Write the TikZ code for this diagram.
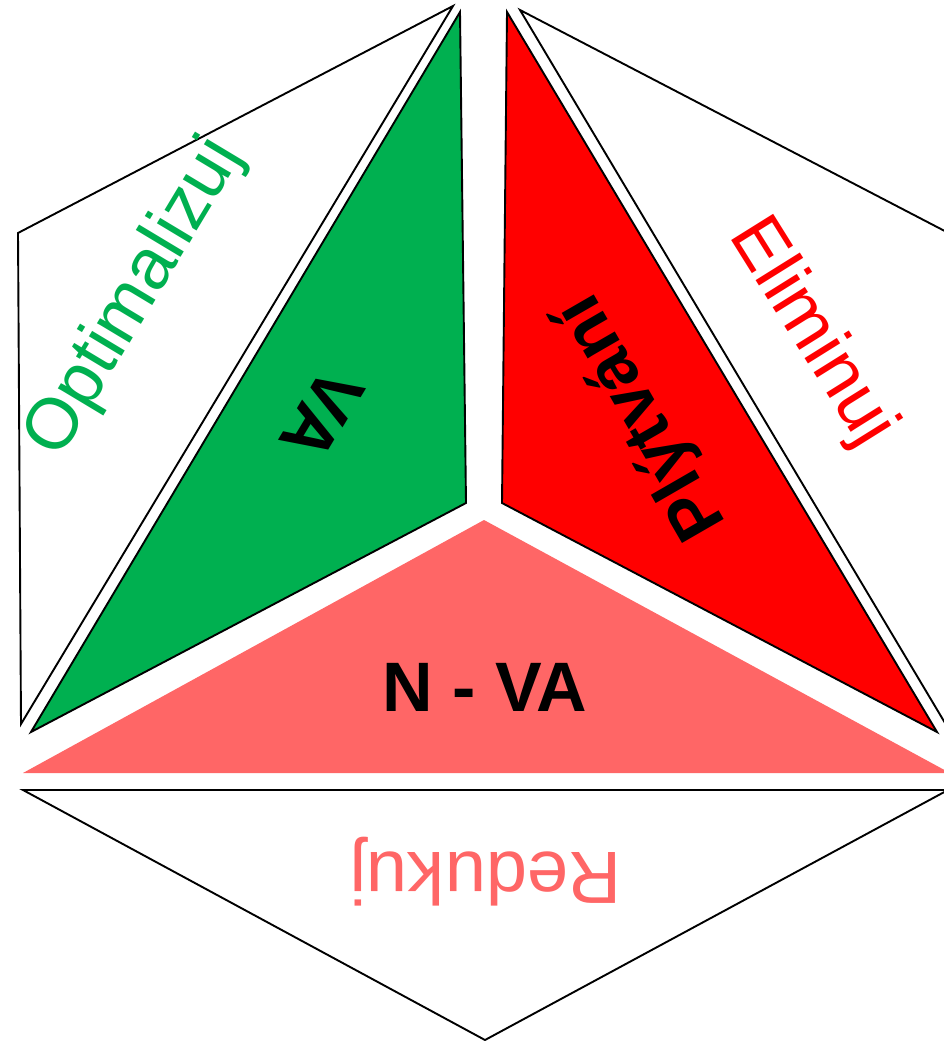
\documentclass[tikz,border=0pt]{standalone}
\usepackage{fontspec}
\setmainfont{Liberation Sans}
\usepackage{xcolor}
\definecolor{vagreen}{HTML}{00B050}
\definecolor{wastered}{HTML}{FF0000}
\definecolor{nvasalmon}{HTML}{FF6666}
\begin{document}
\begin{tikzpicture}[x=1pt,y=-1pt]
\tikzset{
  tri/.style={draw=black,line width=1.9pt},
  lbl/.style={inner sep=0pt,font=\fontsize{72}{72}\selectfont},
  lblb/.style={inner sep=0pt,font=\fontsize{70}{70}\selectfont\bfseries}
}
\useasboundingbox (0,0) rectangle (944,1041);
\clip (0,0) rectangle (944,1041);
% outer white triangles
\draw[tri,fill=white] (453,6) -- (18,233) -- (21,724) -- cycle;
\draw[tri,fill=white] (520,10) -- (962,240) -- (948,728) -- cycle;
\draw[tri,fill=white] (23,790) -- (948,790) -- (485,1040) -- cycle;
% coloured triangles
\draw[tri,fill=vagreen] (460,12) -- (466,503) -- (31,732) -- cycle;
\draw[tri,fill=wastered] (507,12) -- (502,503) -- (937,732) -- cycle;
\fill[nvasalmon] (484,520) -- (23,773) -- (950,773) -- cycle;
% labels
\node[lbl,text=vagreen,rotate=59] (opt) at (135,298) {Optimalizuj};
\node[lbl,text=wastered,rotate=-58] (elim) at (811,333) {Eliminuj};
\node[lbl,text=nvasalmon,rotate=180,font=\fontsize{74}{74}\selectfont] (red) at (486,872) {Redukuj};
\node[lblb,rotate=239] (va) at (322,415) {VA};
\node[lblb,rotate=120] (plyt) at (643,416) {Plýtvání};
\node[lblb] (nva) at (485,687) {N - VA};
\end{tikzpicture}
\end{document}
